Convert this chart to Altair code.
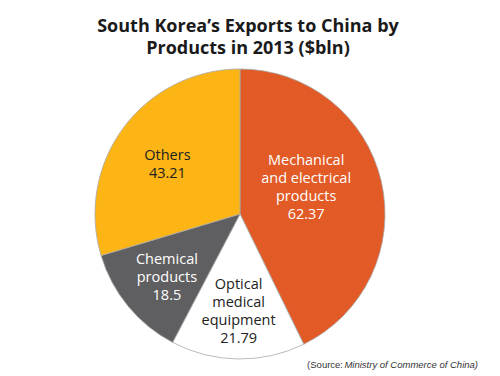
import altair as alt
import pandas as pd

categories = ["Mechanical and electrical products", "Optical medical equipment", "Chemical products", "Others"]
values = [62.37, 21.79, 18.5, 43.21]
label_names = ["Mechanical\nand electrical\nproducts", "Optical\nmedical\nequipment", "Chemical\nproducts", "Others"]
value_labels = ["62.37", "21.79", "18.5", "43.21"]
colors = ["#E25A26", "#FFFFFF", "#5F5F61", "#FCB514"]
text_colors = ["#FFFFFF", "#222222", "#FFFFFF", "#222222"]

df = pd.DataFrame({
    "category": categories,
    "value": values,
    "name": label_names,
    "vlabel": value_labels,
    "idx": list(range(len(categories))),
})

CX, CY, R = 240, 214, 145
LH = 18

base = alt.Chart(df)

arc = base.mark_arc(outerRadius=R, stroke="#a8a8a8", strokeWidth=0.8).encode(
    theta=alt.Theta("value:Q", stack=True),
    color=alt.Color("category:N", scale=alt.Scale(domain=categories, range=colors), legend=None),
    order=alt.Order("idx:Q"),
    x=alt.value(CX),
    y=alt.value(CY),
)

lab_base = base.transform_joinaggregate(total="sum(value)").transform_window(
    cum="sum(value)", sort=[alt.SortField("idx")]
).transform_calculate(
    mid="(datum.cum - datum.value/2)/datum.total*2*PI",
    label="datum.name + '\\n' + datum.vlabel",
)

label_layout = {
    categories[0]: dict(radius=72, dx=-4, dy=-10),
    categories[1]: dict(radius=97, dx=0, dy=1),
    categories[2]: dict(radius=96, dx=1, dy=3),
    categories[3]: dict(radius=88, dx=-2, dy=4),
}

labels = []
for c, nm, tc in zip(categories, label_names, text_colors):
    lay = label_layout[c]
    nlines = nm.count("\n") + 2
    shift = -(nlines - 1) * LH / 2
    labels.append(
        lab_base.transform_filter(alt.datum.category == c).mark_text(
            font="Open Sans", fontSize=14.5, lineBreak="\n", lineHeight=LH,
            align="center", baseline="middle", color=tc,
            radius=lay["radius"], dx=lay["dx"], dy=lay["dy"] + shift,
        ).encode(
            theta=alt.Theta("mid:Q", scale=None),
            text="label:N",
            x=alt.value(CX),
            y=alt.value(CY),
        )
    )

one = alt.Chart(pd.DataFrame({"a": [0]}))
title1 = one.mark_text(font="Open Sans", fontWeight="bold", fontSize=18, color="#1a1a1a",
                       align="center", baseline="alphabetic").encode(
    x=alt.value(248), y=alt.value(32), text=alt.value("South Korea’s Exports to China by"))
title2 = one.mark_text(font="Open Sans", fontWeight="bold", fontSize=18, color="#1a1a1a",
                       align="center", baseline="alphabetic").encode(
    x=alt.value(248), y=alt.value(54), text=alt.value("Products in 2013 ($bln)"))
src1 = one.mark_text(font="Liberation Sans", fontSize=9.5, color="#333333",
                     align="right", baseline="alphabetic").encode(
    x=alt.value(343), y=alt.value(368), text=alt.value("(Source:"))
src2 = one.mark_text(font="Liberation Sans", fontSize=9.5, fontStyle="italic", color="#333333",
                     align="right", baseline="alphabetic").encode(
    x=alt.value(478), y=alt.value(368), text=alt.value("Ministry of Commerce of China)"))

chart = alt.layer(arc, *labels, title1, title2, src1, src2).properties(
    width=500, height=376, autosize=alt.AutoSizeParams(type="none"), padding=0,
    background="#FFFFFF",
).configure_view(stroke=None)

chart.save("out.html", embed_options={"renderer": "svg", "actions": False})
